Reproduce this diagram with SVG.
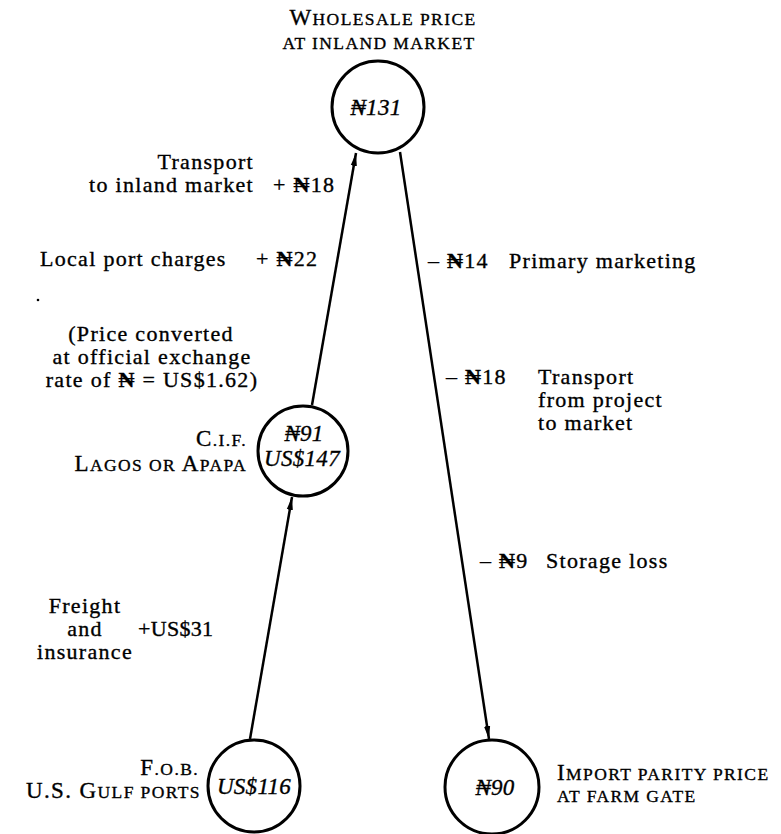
<svg xmlns="http://www.w3.org/2000/svg" width="781" height="834" viewBox="0 0 781 834">
<defs>
<marker id="ah" markerUnits="userSpaceOnUse" markerWidth="14" markerHeight="8" refX="13" refY="4" orient="auto">
<path d="M0,0.9 L13,4 L0,7.1 z" fill="#000"/>
</marker>
</defs>
<style>
text { font-family: "Liberation Serif", "DejaVu Serif", serif; fill: #000; stroke: #000; stroke-width: 0.35; }
.t { font-size: 22px; letter-spacing: 1.3px; }
.sc { font-size: 17.5px; letter-spacing: 1.4px; }
.bg { font-size: 23px; letter-spacing: 1.4px; }
.it { font-style: italic; font-size: 23px; letter-spacing: 0.3px; }
.n { font-weight: bold; }
.node circle { fill: #fff; stroke: #000; stroke-width: 3; }
.conn line { stroke: #000; stroke-width: 2.5; fill: none; }
</style>
<rect width="781" height="834" fill="#fff"/>

<g id="connectors" class="conn">
<line x1="250" y1="739" x2="292" y2="497" marker-end="url(#ah)"/>
<line x1="312" y1="405" x2="356" y2="153" marker-end="url(#ah)"/>
<line x1="400" y1="152" x2="489" y2="739" marker-end="url(#ah)"/>
</g>

<g id="node-wholesale" class="node">
<text x="383" y="25" text-anchor="middle"><tspan class="bg">W</tspan><tspan class="sc">HOLESALE PRICE</tspan></text>
<text x="379" y="49" text-anchor="middle" class="sc">AT INLAND MARKET</text>
<circle cx="378" cy="107" r="46"/>
<text x="376" y="115" text-anchor="middle" class="it">₦131</text>
</g>

<g id="node-cif" class="node">
<circle cx="303" cy="451" r="45"/>
<text x="304" y="441" text-anchor="middle" class="it">₦91</text>
<text x="302" y="466" text-anchor="middle" class="it">US$147</text>
<text x="247" y="446" text-anchor="end"><tspan class="bg">C</tspan><tspan class="sc">.I.F.</tspan></text>
<text x="247" y="471" text-anchor="end"><tspan class="bg">L</tspan><tspan class="sc">AGOS OR </tspan><tspan class="bg">A</tspan><tspan class="sc">PAPA</tspan></text>
</g>

<g id="node-fob" class="node">
<circle cx="254" cy="786" r="46"/>
<text x="254" y="794" text-anchor="middle" class="it">US$116</text>
<text x="199" y="775" text-anchor="end"><tspan class="bg">F</tspan><tspan class="sc">.O.B.</tspan></text>
<text x="201" y="798" text-anchor="end"><tspan class="bg">U.S. G</tspan><tspan class="sc">ULF PORTS</tspan></text>
</g>

<g id="node-farm" class="node">
<circle cx="492" cy="787" r="47"/>
<text x="495" y="795" text-anchor="middle" class="it">₦90</text>
<text x="557" y="780"><tspan class="bg">I</tspan><tspan class="sc">MPORT PARITY PRICE</tspan></text>
<text x="557" y="802" class="sc">AT FARM GATE</text>
</g>

<g id="labels">
<text x="254" y="169" text-anchor="end" class="t">Transport</text>
<text x="254" y="192" text-anchor="end" class="t">to inland market</text>
<text x="273" y="192" class="t">+ <tspan class="n">₦</tspan>18</text>

<text x="40" y="266" class="t">Local port charges</text>
<text x="256" y="266" class="t">+ <tspan class="n">₦</tspan>22</text>

<circle cx="38" cy="300" r="1.3" fill="#000"/>

<text x="151" y="341" text-anchor="middle" class="t">(Price converted</text>
<text x="152" y="364" text-anchor="middle" class="t">at official exchange</text>
<text x="152" y="387" text-anchor="middle" class="t">rate of <tspan class="n">₦</tspan> = US$1.62)</text>

<text x="85" y="613" text-anchor="middle" class="t">Freight</text>
<text x="85" y="636" text-anchor="middle" class="t">and</text>
<text x="85" y="659" text-anchor="middle" class="t">insurance</text>
<text x="138" y="636" class="t" style="letter-spacing:0.3px">+US$31</text>

<text x="428" y="268" class="t">– <tspan class="n">₦</tspan>14</text>
<text x="509" y="268" class="t">Primary marketing</text>

<text x="446" y="384" class="t">– <tspan class="n">₦</tspan>18</text>
<text x="538" y="384" class="t">Transport</text>
<text x="538" y="407" class="t">from project</text>
<text x="538" y="430" class="t">to market</text>

<text x="480" y="568" class="t">– <tspan class="n">₦</tspan>9</text>
<text x="546" y="568" class="t">Storage loss</text>
</g>
</svg>
